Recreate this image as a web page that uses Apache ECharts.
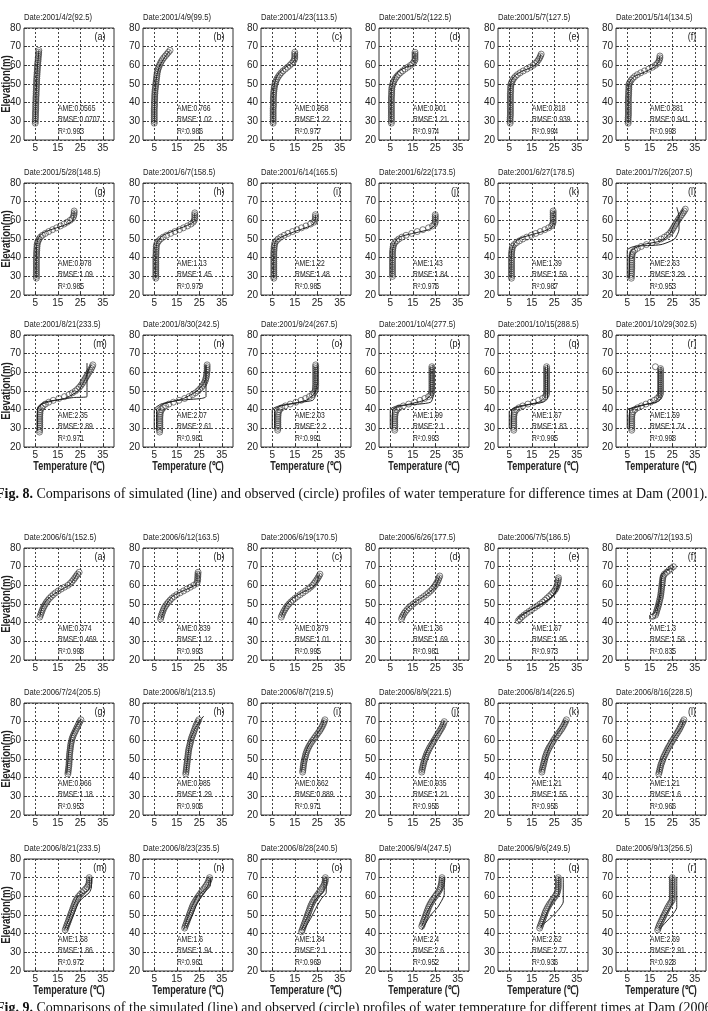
<!DOCTYPE html>
<html>
<head>
<meta charset="utf-8">
<script src="https://cdn.jsdelivr.net/npm/echarts@6.0.0/dist/echarts.min.js"></script>
<style>
  html, body { margin: 0; padding: 0; background: #fff; }
  #chart { width: 708px; height: 1011px; }
</style>
</head>
<body>
<div id="chart"></div>
<script>
// ---- data ----
const letters = ['a','b','c','d','e','f','g','h','i','j','k','l','m','n','o','p','q','r'];
const xTicks = [5, 15, 25, 35];

const dates2001 = ['2001/4/2(92.5)','2001/4/9(99.5)','2001/4/23(113.5)','2001/5/2(122.5)','2001/5/7(127.5)','2001/5/14(134.5)',
  '2001/5/28(148.5)','2001/6/7(158.5)','2001/6/14(165.5)','2001/6/22(173.5)','2001/6/27(178.5)','2001/7/26(207.5)',
  '2001/8/21(233.5)','2001/8/30(242.5)','2001/9/24(267.5)','2001/10/4(277.5)','2001/10/15(288.5)','2001/10/29(302.5)'];
const ame2001 = ['0.0565','0.766','0.958','0.901','0.818','0.881','0.978','1.13','1.22','1.43','1.39','2.63','2.35','2.07','2.03','1.99','1.67','1.59'];
const rmse2001 = ['0.0707','1.02','1.22','1.21','0.939','0.941','1.09','1.45','1.48','1.84','1.59','3.29','2.89','2.61','2.2','2.1','1.83','1.74'];
const r2001 = ['0.993','0.986','0.977','0.974','0.994','0.998','0.985','0.979','0.985','0.976','0.987','0.953','0.971','0.981','0.991','0.993','0.995','0.998'];

// observed: lowest elevation of each profile, then temperature every 1 m upward
const obsBase2001 = [29,29,29,29,29,29,29,29,29,30,29,29,28,28,29,29,29,29];
const obsTemp2001 = [
  [5.0,5.0,5.0,5.1,5.1,5.1,5.1,5.2,5.2,5.2,5.2,5.3,5.3,5.3,5.3,5.4,5.4,5.4,5.5,5.5,5.5,5.6,5.6,5.6,5.7,5.7,5.8,5.8,5.9,5.9,6.0,6.0,6.1,6.2,6.3,6.3,6.4,6.5,6.5,6.6],
  [5.0,5.0,5.0,5.0,5.0,5.0,5.0,5.0,5.0,5.1,5.1,5.1,5.1,5.2,5.2,5.2,5.3,5.3,5.4,5.5,5.6,5.7,5.8,5.9,6.0,6.1,6.2,6.3,6.5,6.7,7.0,7.3,7.7,8.1,8.6,9.2,9.9,10.6,11.3,12.0],
  [5.4,5.4,5.4,5.4,5.4,5.4,5.4,5.4,5.4,5.5,5.5,5.5,5.5,5.5,5.5,5.6,5.6,5.7,5.8,5.9,6.0,6.2,6.5,6.8,7.2,7.7,8.3,9.0,9.8,10.8,11.8,12.8,13.6,14.3,14.8,15.0,15.0,15.0,15.0],
  [5.5,5.5,5.5,5.5,5.5,5.5,5.5,5.5,5.5,5.5,5.5,5.5,5.5,5.5,5.5,5.6,5.6,5.6,5.7,5.7,5.9,6.1,6.4,6.8,7.3,7.9,8.6,9.5,10.5,11.6,12.8,14.0,15.0,15.6,16.0,16.0,16.0,16.0,16.0],
  [5.4,5.4,5.4,5.4,5.5,5.5,5.5,5.5,5.5,5.5,5.5,5.5,5.5,5.5,5.5,5.5,5.5,5.6,5.6,5.6,5.7,5.8,6.1,6.5,7.0,7.7,8.6,9.8,11.2,12.8,14.3,15.6,16.6,17.4,18.0,18.5,18.9,19.2],
  [5.4,5.4,5.4,5.4,5.5,5.5,5.5,5.5,5.5,5.5,5.5,5.5,5.5,5.5,5.5,5.6,5.6,5.6,5.7,5.7,5.7,5.8,6.2,6.7,7.4,8.3,9.5,11.0,12.7,14.5,16.2,17.5,18.4,19.0,19.3,19.5,19.5],
  [5.5,5.5,5.5,5.5,5.5,5.5,5.5,5.5,5.5,5.5,5.5,5.5,5.6,5.6,5.6,5.7,5.7,5.8,5.8,6.0,6.3,6.7,7.3,8.2,9.5,11.0,12.7,14.5,16.2,17.8,19.2,20.5,21.5,22.0,22.2,22.3,22.3],
  [5.7,5.7,5.7,5.7,5.7,5.7,5.7,5.7,5.7,5.7,5.7,5.7,5.7,5.8,5.8,5.8,5.9,5.9,6.0,6.4,7.0,7.8,9.0,10.5,12.3,14.2,16.2,18.0,19.8,21.3,22.3,22.8,23.0,23.0,23.0,23.0],
  [5.7,5.7,5.7,5.7,5.7,5.7,5.7,5.7,5.7,5.7,5.7,5.7,5.7,5.7,5.7,5.8,5.8,5.9,6.0,6.2,6.8,7.6,8.8,10.3,12.0,14.0,16.0,18.0,20.0,22.0,23.5,24.0,24.2,24.2,24.2],
  [6.0,6.0,6.0,6.0,6.0,6.0,6.0,6.0,6.0,6.0,6.0,6.0,6.0,6.0,6.1,6.2,6.3,6.5,7.0,7.8,8.8,10.2,12.0,14.5,17.0,19.5,22.0,23.8,24.7,25.0,25.0,25.0,25.0,25.0],
  [6.0,6.0,6.0,6.0,6.0,6.0,6.0,6.0,6.0,6.0,6.0,6.0,6.0,6.0,6.1,6.2,6.3,6.5,7.2,8.2,9.5,11.0,12.8,14.8,16.8,18.8,20.8,22.5,23.8,24.3,24.5,24.5,24.5,24.5,24.5,24.5,24.5],
  [6.8,6.8,6.9,6.9,6.9,7.0,7.0,7.0,7.0,7.0,7.0,7.1,7.1,7.2,7.5,8.3,9.5,11.2,13.5,16.0,18.2,20.0,21.5,22.8,23.8,24.5,25.0,25.5,26.0,26.5,27.0,27.5,28.0,28.6,29.2,29.8,30.3,30.8],
  [6.9,6.9,7.0,7.0,7.0,7.0,7.0,7.0,7.0,7.0,7.1,7.1,7.3,7.8,8.5,9.5,11.0,13.0,15.5,18.0,20.0,21.5,22.8,23.8,24.6,25.3,25.9,26.4,26.9,27.4,27.9,28.4,28.9,29.4,29.9,30.3,30.6],
  [7.4,7.4,7.5,7.5,7.5,7.5,7.5,7.5,7.5,7.6,7.6,7.8,8.3,9.0,10.0,11.5,13.5,16.0,18.5,20.5,22.0,23.3,24.4,25.2,26.0,26.6,27.1,27.5,27.8,28.0,28.2,28.3,28.4,28.5,28.5,28.5,28.5],
  [7.4,7.5,7.5,7.5,7.5,7.5,7.5,7.5,7.6,7.6,7.8,8.3,9.2,10.8,13.0,15.5,17.8,19.8,21.5,22.8,23.6,24.0,24.2,24.2,24.3,24.3,24.3,24.3,24.3,24.3,24.3,24.3,24.3,24.3,24.3,24.3],
  [7.0,7.0,7.0,7.0,7.0,7.0,7.0,7.0,7.1,7.2,7.4,8.0,9.0,10.8,13.2,15.8,18.2,20.3,22.0,23.0,23.4,23.5,23.5,23.5,23.5,23.5,23.5,23.5,23.5,23.5,23.5,23.5,23.5,23.5,23.5],
  [7.0,7.0,7.0,7.0,7.0,7.0,7.0,7.0,7.1,7.2,7.5,8.2,9.3,11.0,13.3,15.8,18.0,19.8,21.0,21.5,21.6,21.6,21.6,21.6,21.6,21.6,21.6,21.6,21.6,21.6,21.6,21.6,21.6,21.6,21.6],
  [7.0,7.0,7.0,7.0,7.0,7.0,7.0,7.0,7.1,7.2,7.6,8.4,9.6,11.3,13.3,15.3,17.0,18.3,19.2,19.6,19.8,19.8,19.8,19.8,19.8,19.8,19.8,19.8,19.8,19.8,19.8,19.8,19.8,19.8,17.5]
];
// simulated profiles [temperature, elevation]
const sim2001 = [
  [[5,29],[5.4,45],[5.9,58],[6.4,65],[6.6,68]],
  [[5,29],[5.2,42],[5.6,50],[6.2,55],[7.5,60],[9.5,64],[12,68]],
  [[5.4,29],[5.5,45],[6,50],[7,54],[9,57],[11,59],[13.5,61],[15,63],[15,67]],
  [[5.4,29],[5.5,46],[6,50],[7,54],[9,57],[12,59],[15,60],[16,62],[16,67]],
  [[5.4,29],[5.5,48],[6,52],[8,55],[11,57],[15,59],[18,62],[19,66]],
  [[5.4,29],[5.5,48],[6,51],[8,54],[12,56],[17,59],[19,62],[19.5,65]],
  [[5.4,29],[5.6,46],[6.2,50],[8,53],[12,55],[17,57],[21,59],[22,61],[22.3,65]],
  [[5.6,29],[5.8,45],[6.5,49],[9,52],[15,55],[21,58],[23,60],[23,64]],
  [[5.6,29],[5.8,45],[6.5,49],[9,51],[15,54],[22,57],[24,59],[24.2,63]],
  [[5.8,30],[6,44],[7,48],[9,51],[15,53],[22,55],[24.5,57],[25,60],[25,63]],
  [[5.8,29],[6,43],[7,47],[9,50],[14,52],[20,54],[23.5,56],[24.5,58],[24.5,65]],
  [[5,29],[5,44],[8,46],[20,47],[26,50],[28,55],[28,62],[27,67]],
  [[6,29],[6,40],[8,43],[14,45],[22,46.5],[28,47],[28,55],[28,65]],
  [[5,29],[5,40],[8,43],[16,45],[26,46],[28,47],[28,55],[28,64]],
  [[5,30],[5,40],[8,42],[18,44],[23,45],[24,47],[24,63]],
  [[5,30],[5,40],[8,42],[18,43],[23,44],[24,47],[24,64]],
  [[5,30],[5,39],[8,41],[15,43],[20,44],[22,46],[22,64]],
  [[5,30],[5,40],[8,41],[14,43],[18,44],[20,46],[20,63]]
];
const simB2001 = [null,null,null,null,null,null,null,null,null,null,null,
  [[6,29],[6,40],[7,44],[12,47],[20,49],[24,53],[26,58],[28,62],[30,66]],
  [[6,29],[6,41],[9,44],[18,46],[24,50],[27,56],[29,62],[30,64]],
  [[6,29],[6,40],[9,43],[18,46],[24,50],[27,54],[28,58],[28,64]],
  [[6,30],[6,40],[9,42],[20,45],[24,49],[25,55],[25,64]],
  [[6,30],[6,40],[10,42],[20,45],[23,48],[23,63]],
  [[6,30],[6,40],[10,42],[18,44],[21,47],[21,63]],
  [[6,30],[6,40],[10,42],[17,44],[19,47],[19,62]]
];

const dates2006 = ['2006/6/1(152.5)','2006/6/12(163.5)','2006/6/19(170.5)','2006/6/26(177.5)','2006/7/5(186.5)','2006/7/12(193.5)',
  '2006/7/24(205.5)','2006/8/1(213.5)','2006/8/7(219.5)','2006/8/9(221.5)','2006/8/14(226.5)','2006/8/16(228.5)',
  '2006/8/21(233.5)','2006/8/23(235.5)','2006/8/28(240.5)','2006/9/4(247.5)','2006/9/6(249.5)','2006/9/13(256.5)'];
const ame2006 = ['0.374','0.839','0.879','1.36','1.67','1.3','0.966','0.985','0.662','0.935','1.21','1.21','1.58','1.6','1.84','2.4','2.52','2.69'];
const rmse2006 = ['0.469','1.12','1.01','1.69','1.95','1.58','1.18','1.29','0.889','1.21','1.55','1.6','1.86','1.94','2.1','2.6','2.77','2.91'];
const r2006 = ['0.998','0.993','0.995','0.981','0.973','0.835','0.953','0.906','0.971','0.956','0.956','0.966','0.972','0.961','0.969','0.952','0.936','0.928'];

const obsBase2006 = [43,42,43,42,41,44,42,42,43,43,43,42,42,43,41,44,43,42];
const obsTemp2006 = [
  [7.0,7.3,7.6,7.9,8.2,8.6,9.0,9.5,10.0,10.6,11.3,12.1,13.0,14.0,15.2,16.5,18.0,19.5,20.5,21.3,22.0,22.6,23.2,23.8,24.5],
  [7.8,8.0,8.2,8.5,8.8,9.1,9.5,10.0,10.6,11.3,12.0,12.8,13.8,15.0,16.5,18.0,19.5,21.0,22.5,23.8,24.2,24.3,24.3,24.4,24.4,24.5],
  [9.0,9.3,9.7,10.1,10.6,11.1,11.7,12.4,13.2,14.1,15.1,16.2,17.4,18.6,19.8,21.0,22.0,22.9,23.6,24.2,24.8,25.3,25.8,26.2],
  [10.0,10.3,10.7,11.2,11.8,12.5,13.3,14.2,15.2,16.3,17.5,18.7,19.9,21.0,22.0,22.9,23.7,24.4,25.0,25.5,26.0,26.4,26.7,27.0],
  [9.0,9.7,10.5,11.5,12.6,13.8,15.0,16.3,17.5,18.7,19.8,20.8,21.7,22.6,23.5,24.3,25.0,25.6,26.0,26.3,26.5,26.7,26.8,26.9],
  [17.5,17.8,18.0,18.3,18.5,18.8,19.0,19.2,19.4,19.6,19.8,19.9,20.0,20.1,20.2,20.3,20.4,20.5,20.6,20.7,20.8,21.0,21.5,22.5,23.5,24.5,25.5],
  [19.5,19.6,19.7,19.8,19.9,20.0,20.0,20.1,20.1,20.2,20.2,20.3,20.4,20.5,20.6,20.7,20.8,21.0,21.2,21.4,21.7,22.0,22.4,22.8,23.2,23.6,24.0,24.4,24.8,25.3],
  [19.0,19.1,19.2,19.3,19.4,19.5,19.6,19.7,19.8,19.9,20.0,20.1,20.2,20.3,20.5,20.7,20.9,21.1,21.3,21.5,21.8,22.1,22.4,22.7,23.0,23.3,23.6,24.0,24.4,24.8],
  [18.5,18.6,18.7,18.8,18.9,19.0,19.2,19.4,19.6,19.8,20.0,20.3,20.6,21.0,21.4,21.9,22.4,23.0,23.6,24.2,24.8,25.4,26.0,26.5,27.0,27.4,27.8,28.1,28.4],
  [19.0,19.1,19.3,19.5,19.7,19.9,20.1,20.4,20.7,21.0,21.3,21.7,22.1,22.5,23.0,23.5,24.0,24.5,25.0,25.5,26.0,26.5,27.0,27.5,28.0,28.4,28.7,29.0],
  [19.5,19.6,19.8,20.0,20.2,20.4,20.6,20.8,21.0,21.3,21.6,21.9,22.3,22.7,23.2,23.7,24.2,24.7,25.2,25.8,26.4,27.0,27.6,28.2,28.7,29.2,29.6,30.0,30.4],
  [19.0,19.2,19.4,19.6,19.8,20.0,20.3,20.6,20.9,21.2,21.6,22.0,22.4,22.8,23.2,23.7,24.2,24.7,25.2,25.7,26.2,26.7,27.2,27.7,28.2,28.6,29.0,29.4,29.8,30.2],
  [18.3,18.6,18.9,19.2,19.5,19.8,20.1,20.4,20.7,21.0,21.3,21.6,21.9,22.2,22.5,22.8,23.2,23.7,24.3,25.0,25.8,26.6,27.4,28.1,28.6,28.9,29.0,29.0,29.0],
  [18.5,18.8,19.1,19.4,19.7,20.0,20.3,20.6,20.9,21.2,21.5,21.8,22.1,22.5,23.0,23.5,24.0,24.6,25.2,25.8,26.4,27.0,27.6,28.2,28.7,29.1,29.4,29.6],
  [18.0,18.3,18.6,18.9,19.2,19.5,19.8,20.1,20.4,20.7,21.0,21.3,21.6,21.9,22.2,22.6,23.0,23.5,24.0,24.6,25.2,25.8,26.4,27.0,27.5,28.0,28.3,28.5,28.6,28.6],
  [19.0,19.3,19.6,19.9,20.2,20.5,20.8,21.1,21.4,21.7,22.0,22.4,22.8,23.3,23.8,24.4,25.0,25.6,26.2,26.7,27.1,27.4,27.6,27.8,27.9,28.0,28.0],
  [18.5,18.8,19.1,19.4,19.7,20.0,20.3,20.6,20.9,21.2,21.6,22.0,22.5,23.0,23.6,24.2,24.8,25.4,25.9,26.3,26.5,26.7,26.8,26.8,26.8,26.8,26.8,26.8],
  [18.5,18.8,19.1,19.4,19.8,20.2,20.6,21.0,21.4,21.8,22.2,22.6,23.0,23.5,24.0,24.5,25.0,25.0,25.0,25.0,25.0,25.0,25.0,25.0,25.0,25.0,25.0,25.0,25.0]
];
const sim2006 = [
  [[7,43],[8,48],[10,52],[13,55],[17,58],[20,60],[22,63],[24,67]],
  [[8,42],[10,49],[13,54],[16,56],[23,60],[24,62],[24,67]],
  [[9,43],[11,49],[14,53],[18,56],[23,59],[25,62],[26,66]],
  [[10,42],[12,47],[16,51],[21,55],[25,59],[26,62],[27,65]],
  [[8,41],[11,44],[16,48],[21,51],[25,55],[26,58],[27,64]],
  [[15,42],[17,42],[18,45],[19,50],[20,55],[20,62],[21,66],[23,68],[26,70]],
  [[19,42],[20,55],[21,62],[23,67],[25,71]],
  [[19,42],[20,52],[21,60],[23,66],[25,70],[27,73]],
  [[18,43],[19,50],[21,57],[24,62],[27,67],[28,71]],
  [[19,43],[20,50],[22,56],[25,62],[28,67],[29,70]],
  [[19,43],[21,50],[23,57],[26,63],[29,68],[30,71]],
  [[19,42],[20,48],[23,56],[26,62],[29,67],[30,71]],
  [[18,42],[20,48],[22,55],[24,60],[27,62],[29,64],[29,70]],
  [[18,42],[20,49],[22,55],[24,60],[27,63],[29,66],[29.5,70]],
  [[18,42],[21,50],[24,58],[28,63],[28,70]],
  [[19,44],[22,53],[25,59],[27,62],[28,64],[28,70]],
  [[19,43],[22,52],[25,59],[27,61],[27,70]],
  [[19,43],[22,50],[25,57],[25,70]]
];
const simB2006 = [null,null,null,null,
  [[9,43],[13,46],[18,49],[23,53],[26,57],[27,60]],
  [[15,42],[15,44],[17,45],[19,52],[20,60],[20,65],[22,68],[24,69]],
  null,null,null,null,null,null,
  [[19,42],[22,50],[24,56],[26,59],[29,62],[30,65],[30,70]],
  [[19,43],[22,50],[24,56],[26,60],[28,63],[30,66],[30,70]],
  [[19,42],[22,48],[25,55],[27,59],[29,62],[29,70]],
  [[19,42],[23,50],[26,54],[28,58],[29,61],[29,70]],
  [[19,44],[23,48],[27,53],[29,57],[29,70]],
  [[19,42],[25,50],[27,54],[27,70]]
];

const caption8 = 'Comparisons of simulated (line) and observed (circle) profiles of water temperature for difference times at Dam (2001).';
const caption9 = 'Comparisons of the simulated (line) and observed (circle) profiles of water temperature for different times at Dam (2006).';

// ---- layout ----
const W = 90, H = 112;
const colLeft = [24, 143, 261, 379, 498, 616];
const rowTop = [28, 183, 335, 548, 703, 859];
const sans = "'Liberation Sans',Arial,sans-serif";
const serif = "'Liberation Serif','Times New Roman',serif";

const grids = [], xAxes = [], yAxes = [], series = [], graphics = [];

// narrow text: the scan uses a condensed face, so squeeze horizontally
function txt(x, y, text, size, align, sx, extra) {
  graphics.push({
    type: 'text', x: x, y: y, scaleX: sx, scaleY: 1, originX: 0, originY: 0, silent: true,
    style: Object.assign({
      text: text, fontSize: size, fontFamily: sans, fill: '#222',
      align: align, textAlign: align, verticalAlign: 'middle', textVerticalAlign: 'middle'
    }, extra || {})
  });
}

function addBlock(block, dates, obsBase, obsTemp, sim, simB, ame, rmse, r2) {
  for (let k = 0; k < 18; k++) {
    const row = Math.floor(k / 6), col = k % 6;
    const L = colLeft[col], T = rowTop[block * 3 + row];
    const g = grids.length;
    grids.push({
      left: L, top: T, width: W, height: H,
      show: true, borderColor: '#333', borderWidth: 1,
      outerBoundsMode: 'none', containLabel: false
    });
    xAxes.push({
      gridIndex: g, type: 'value', min: 0, max: 40,
      axisLine: { show: false },
      axisTick: { show: true, inside: true, length: 3, customValues: xTicks, lineStyle: { color: '#333' } },
      axisLabel: { customValues: xTicks, margin: 3, fontSize: 10, color: '#222', fontFamily: sans },
      splitLine: { show: true, lineStyle: { type: [2, 2], color: '#444', width: 1 } }
    });
    yAxes.push({
      gridIndex: g, type: 'value', min: 20, max: 80, interval: 10,
      axisLine: { show: false },
      axisTick: { show: true, inside: true, length: 3, lineStyle: { color: '#333' } },
      axisLabel: { margin: 3, fontSize: 10, color: '#222', fontFamily: sans },
      splitLine: { show: true, lineStyle: { type: [2, 2], color: '#444', width: 1 } }
    });
    const obs = obsTemp[k].map((t, i) => [t, obsBase[k] + i]);
    series.push({
      type: 'scatter', xAxisIndex: g, yAxisIndex: g, data: obs,
      symbol: 'circle', symbolSize: 6, silent: true, animation: false,
      itemStyle: { color: 'rgba(0,0,0,0)', borderColor: '#333', borderWidth: 0.8 }
    });
    [sim[k], simB[k]].forEach(function (s) {
      if (!s) return;
      series.push({
        type: 'line', xAxisIndex: g, yAxisIndex: g, data: s,
        showSymbol: false, symbol: 'none', smooth: 0.2, silent: true, animation: false,
        lineStyle: { color: '#222', width: 1 }
      });
    });
    txt(L, T - 10, 'Date:' + dates[k], 9, 'left', 0.85);
    txt(L + 76, T + 9, '(' + letters[k] + ')', 10, 'center', 0.9);
    txt(L + 34, T + 81, 'AME:' + ame[k], 8.5, 'left', 0.8);
    txt(L + 34, T + 92, 'RMSE:' + rmse[k], 8.5, 'left', 0.8);
    txt(L + 34, T + 104, 'R²:' + r2[k], 8.5, 'left', 0.8);
    if (row === 2) {
      txt(L + W / 2, T + H + 20, 'Temperature (℃)', 12, 'center', 0.75, { fontWeight: 'bold' });
    }
    if (col === 0) {
      graphics.push({
        type: 'text', x: 7, y: T + H / 2, rotation: Math.PI / 2, scaleX: 0.8, silent: true,
        style: {
          text: 'Elevation(m)', fontSize: 12, fontWeight: 'bold', fontFamily: sans, fill: '#222',
          align: 'center', textAlign: 'center', verticalAlign: 'middle', textVerticalAlign: 'middle'
        }
      });
    }
  }
}

addBlock(0, dates2001, obsBase2001, obsTemp2001, sim2001, simB2001, ame2001, rmse2001, r2001);
addBlock(1, dates2006, obsBase2006, obsTemp2006, sim2006, simB2006, ame2006, rmse2006, r2006);

[[494, '{b|Fig. 8.} ' + caption8], [1008, '{b|Fig. 9.} ' + caption9]].forEach(function (c) {
  graphics.push({
    type: 'text', x: -4, y: c[0], silent: true,
    style: {
      text: c[1], fontSize: 14, fontFamily: serif, fill: '#111',
      verticalAlign: 'middle', textVerticalAlign: 'middle',
      rich: { b: { fontWeight: 'bold', fontSize: 14, fontFamily: serif, fill: '#111' } }
    }
  });
});

const chart = echarts.init(document.getElementById('chart'));
chart.setOption({
  backgroundColor: '#fff',
  animation: false,
  grid: grids,
  xAxis: xAxes,
  yAxis: yAxes,
  series: series,
  graphic: graphics
});
</script>
</body>
</html>
